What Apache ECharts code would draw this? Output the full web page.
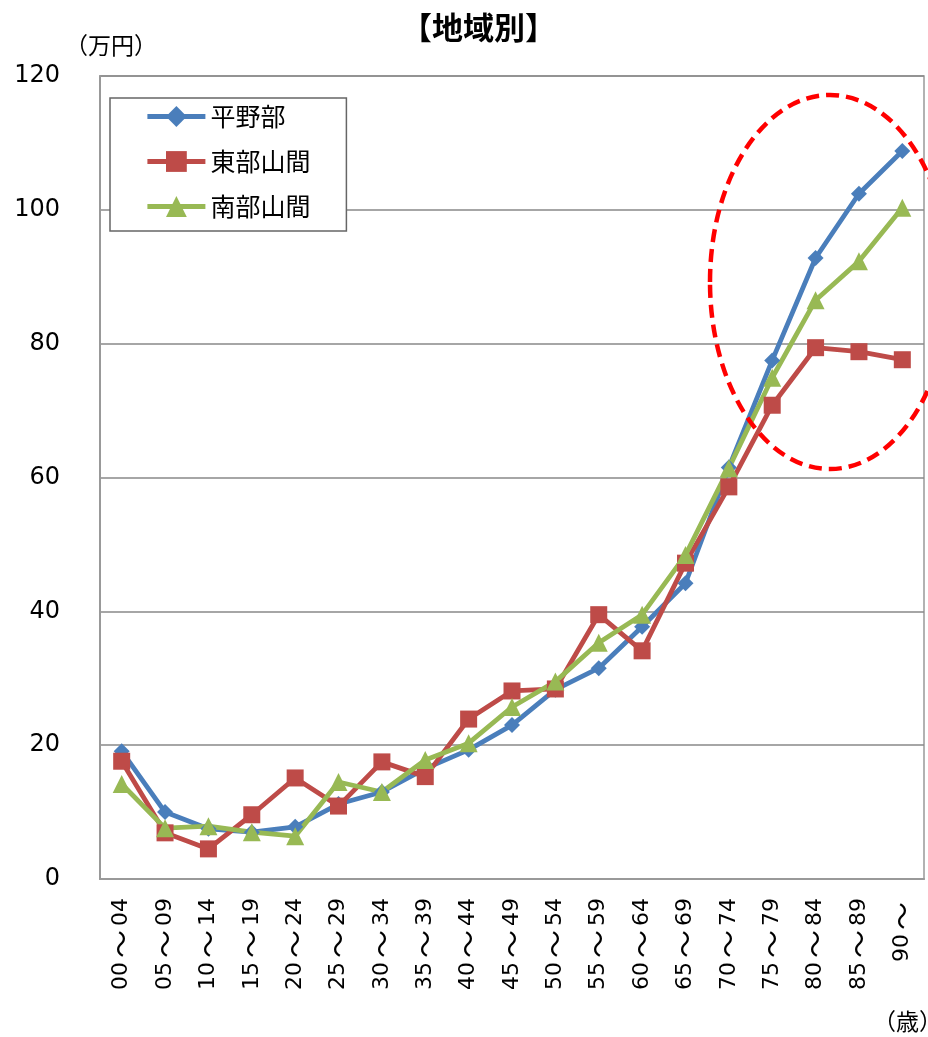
<!DOCTYPE html>
<html>
<head>
<meta charset="utf-8">
<script src="https://cdn.jsdelivr.net/npm/echarts@6/dist/echarts.min.js"></script>
<style>
html, body { margin: 0; padding: 0; background: #fff; }
#chart { width: 928px; height: 1037px; }
</style>
</head>
<body>
<div id="chart"></div>
<script>
// 年齢階級
const categories = ['00～04', '05～09', '10～14', '15～19', '20～24', '25～29', '30～34', '35～39', '40～44', '45～49',
	'50～54', '55～59', '60～64', '65～69', '70～74', '75～79', '80～84', '85～89', '90～'];
// 平野部
const heiyabu = [19.1, 10.0, 7.5, 7.0, 7.8, 11.2, 13.0, 16.5, 19.3, 23.0, 28.3, 31.5, 37.7, 44.2, 61.5, 77.5, 92.8, 102.4, 108.8];
// 東部山間
const tobuSankan = [17.6, 6.9, 4.5, 9.6, 15.1, 10.9, 17.5, 15.3, 23.9, 28.1, 28.4, 39.5, 34.1, 47.2, 58.6, 70.8, 79.4, 78.8, 77.6];
// 南部山間
const nanbuSankan = [14.2, 7.6, 7.9, 7.0, 6.4, 14.5, 13.0, 17.8, 20.3, 25.7, 29.5, 35.3, 39.5, 48.4, 61.4, 74.9, 86.5, 92.3, 100.3];

const latin = '"DejaVu Sans"';
const cjk = '"Noto Sans CJK JP"';
const fontFamily = latin + ', ' + cjk + ', sans-serif';
const chart = echarts.init(document.getElementById('chart'));

const makeSeries = (name, data, color, symbol, size) => ({
	name: name,
	type: 'line',
	data: data,
	symbol: symbol,
	symbolSize: size,
	showAllSymbol: true,
	lineStyle: { color: color, width: 4.8 },
	itemStyle: { color: color },
	emphasis: { disabled: true },
	animation: false,
});

chart.setOption({
	textStyle: { fontFamily: fontFamily },
	title: {
		text: '【地域別】',
		left: 396,
		top: 7,
		textStyle: { fontSize: 31, fontWeight: 'bold', color: '#000', fontFamily: cjk },
	},
	grid: {
		left: 100,
		top: 76,
		right: 4,
		bottom: 158,
		show: true,
		borderColor: '#999',
		borderWidth: 1.5,
	},
	legend: {
		orient: 'vertical',
		left: 110,
		top: 98,
		padding: [6, 36, 12, 35],
		itemGap: 20,
		itemWidth: 58,
		itemHeight: 26,
		backgroundColor: '#fff',
		borderColor: '#666',
		borderWidth: 1.5,
		lineStyle: { width: 4.8 },
		textStyle: { fontSize: 25, color: '#000', fontFamily: cjk },
		data: ['平野部', '東部山間', '南部山間'],
	},
	xAxis: {
		type: 'category',
		data: categories,
		boundaryGap: true,
		axisLine: { lineStyle: { color: '#999', width: 2 } },
		axisTick: { show: false },
		axisLabel: {
			rotate: 90,
			color: '#000',
			margin: 19,
			interval: 0,
			formatter: (v) => {
				const parts = v.split('～');
				return '{d|' + parts[0] + '}{t|～}' + (parts[1] ? '{d|' + parts[1] + '}' : '');
			},
			rich: {
				d: { fontSize: 22, fontFamily: latin, color: '#000' },
				t: { fontSize: 28, fontFamily: cjk, color: '#000', padding: [0, 4, 0, 4] },
			},
		},
	},
	yAxis: {
		type: 'value',
		min: 0,
		max: 120,
		interval: 20,
		axisLine: { show: true, lineStyle: { color: '#999', width: 2 } },
		axisTick: { show: false },
		axisLabel: { fontSize: 24, color: '#000', margin: 40, fontFamily: latin },
		splitLine: { lineStyle: { color: '#888', width: 1.5 } },
	},
	graphic: [
		{ type: 'text', left: 65, top: 34, style: { text: '（万円）', fill: '#000', font: '23px ' + cjk } },
		{ type: 'text', left: 873, top: 1010, style: { text: '（歳）', fill: '#000', font: '23px ' + cjk } },
		{
			type: 'ellipse',
			shape: { cx: 830, cy: 282, rx: 120, ry: 187 },
			style: { fill: 'none', stroke: '#ff0000', lineWidth: 4.5, lineDash: [13, 7] },
			z: 100,
		},
	],
	series: [
		makeSeries('平野部', heiyabu, '#4A7EBB', 'diamond', 16),
		makeSeries('東部山間', tobuSankan, '#BE4B48', 'rect', 17),
		makeSeries('南部山間', nanbuSankan, '#98B954', 'triangle', 18),
	],
});
</script>
</body>
</html>
